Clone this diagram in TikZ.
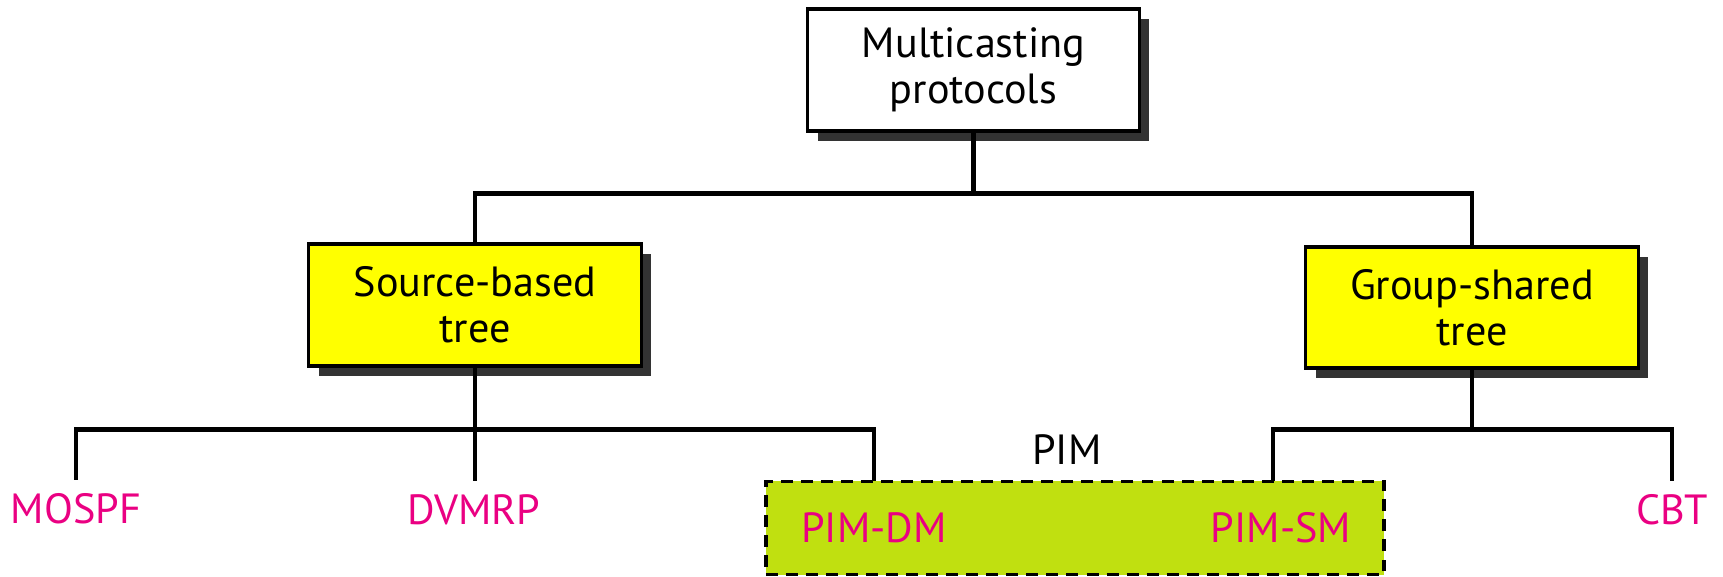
\documentclass[tikz,border=0pt]{standalone}
\usepackage{fontspec}
\setmainfont{PT Sans}
\usetikzlibrary{shadows}
\definecolor{boxyellow}{RGB}{255,255,0}
\definecolor{pimgreen}{RGB}{192,224,16}
\definecolor{protored}{RGB}{234,0,130}
\definecolor{shadowgray}{RGB}{51,51,51}

\begin{document}
\begin{tikzpicture}[x=0.01cm,y=-0.01cm,line width=1.2pt,
                    main node/.style={rectangle,draw,line width=0.9pt,align=center,
                      minimum width=3.32cm,minimum height=1.22cm,
                      font=\fontsize{12}{13}\selectfont,
                      drop shadow={shadow xshift=0.1cm,shadow yshift=-0.1cm,
                                   fill=shadowgray,opacity=1}},
                    proto node/.style={anchor=base,text=protored,
                      font=\fontsize{12}{13}\selectfont}]

  \useasboundingbox (0,0) rectangle (1723,577);

  \node[main node,fill=white,minimum width=3.31cm] (root) at (973.5,70) {Multicasting\\protocols};
  \node[main node,fill=boxyellow] (src) at (475,305) {Source-based\\tree};
  \node[main node,fill=boxyellow,minimum height=1.21cm] (grp) at (1472,307.5) {Group-shared\\tree};

  \node[draw,dash pattern=on 3.4pt off 2.3pt,line width=1pt,fill=pimgreen,
        minimum width=6.18cm,minimum height=0.93cm] (pimbox) at (1075,528) {};
  \node[anchor=base,font=\fontsize{12}{13}\selectfont] (pim) at (1067,465) {PIM};
  \coordinate (dm) at (874,481);
  \coordinate (sm) at (1273,481);

  \node[proto node] (mospf) at (76,524) {MOSPF};
  \node[proto node] (dvmrp) at (474,525) {DVMRP};
  \node[proto node] (pimdm) at (874,543) {PIM-DM};
  \node[proto node] (pimsm) at (1281,543) {PIM-SM};
  \node[proto node] (cbt) at (1672,525) {CBT};

  \draw (root.south) -- ++(0,61) coordinate (j1) -| (src.north);
  \draw (j1) -| (grp.north);
  \draw (src.south) -- ++(0,62) coordinate (j2) -| (mospf.north);
  \draw (j2) -- (src.south |- dvmrp.north);
  \draw (j2) -| (dm);
  \draw (grp.south) -- ++(0,60) coordinate (j3) -| (sm);
  \draw (j3) -| (cbt.north);
\end{tikzpicture}
\end{document}
